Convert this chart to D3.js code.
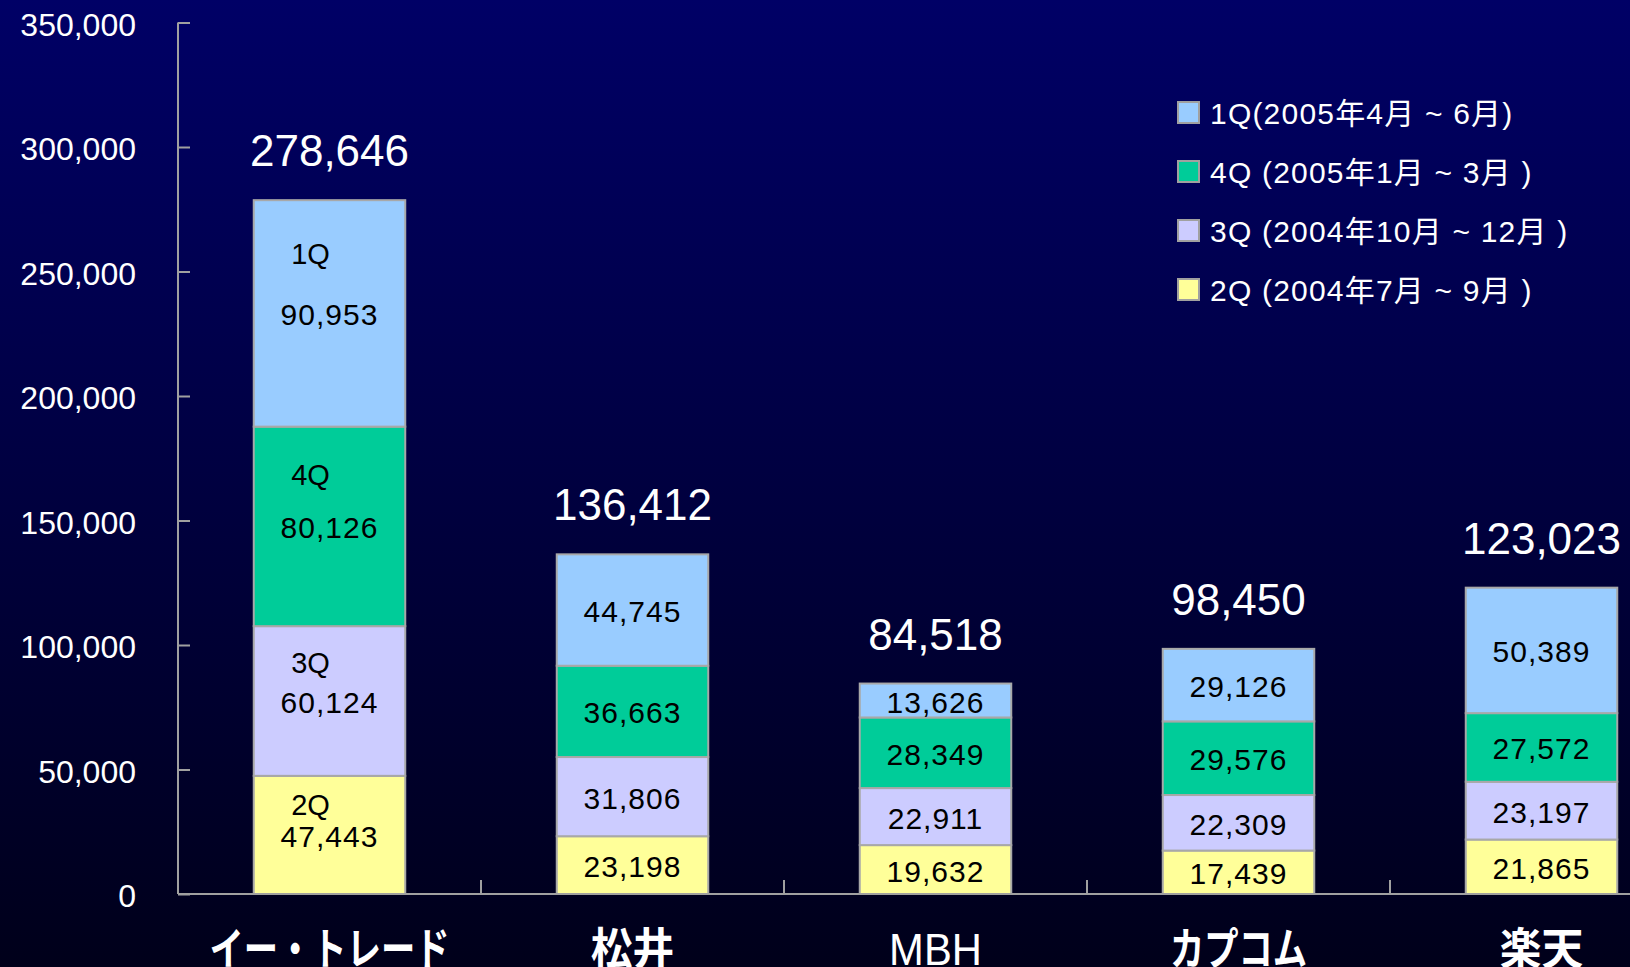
<!DOCTYPE html>
<html>
<head>
<meta charset="utf-8">
<script src="https://cdn.jsdelivr.net/npm/d3@7"></script>
<style>
  html, body { margin: 0; padding: 0; overflow: hidden; background: #000033; }
  text { font-family: "Liberation Sans", Arial, sans-serif; }
</style>
</head>
<body>
<div id="chart"></div>
<script>
// data
var companies = ["イー・トレード", "松井", "MBH", "カプコム", "楽天"];
var quarters = ["2Q", "3Q", "4Q", "1Q"]; // stacked bottom -> top
var q2 = [47443, 23198, 19632, 17439, 21865];
var q3 = [60124, 31806, 22911, 22309, 23197];
var q4 = [80126, 36663, 28349, 29576, 27572];
var q1 = [90953, 44745, 13626, 29126, 50389];
var totals = [278646, 136412, 84518, 98450, 123023];
var yTicks = [0, 50000, 100000, 150000, 200000, 250000, 300000, 350000];
var legendLabels = [
  "1Q(2005年4月 ~ 6月)",
  "4Q (2005年1月 ~ 3月 )",
  "3Q (2004年10月 ~ 12月 )",
  "2Q (2004年7月 ~ 9月 )"
];
var legendKeys = ["1Q", "4Q", "3Q", "2Q"];

var colors = { "1Q": "#99ccff", "4Q": "#00cc99", "3Q": "#ccccff", "2Q": "#ffff99" };

var W = 1630, H = 967;
var x0 = 178, yBase = 894, yTop = 22.5;

var svg = d3.select("#chart").append("svg")
  .attr("width", W)
  .attr("height", H);

// background gradient
var grad = svg.append("defs").append("linearGradient")
  .attr("id", "bg").attr("x1", 0).attr("y1", 0).attr("x2", 0).attr("y2", 1);
grad.append("stop").attr("offset", "0%").attr("stop-color", "#000066");
grad.append("stop").attr("offset", "100%").attr("stop-color", "#00001a");
svg.append("rect").attr("width", W).attr("height", H).attr("fill", "url(#bg)");

var y = d3.scaleLinear().domain([0, 350000]).range([yBase, yTop]);
var x = d3.scaleBand()
  .domain(companies)
  .range([x0, x0 + 303 * 5])
  .paddingInner(0.5)
  .paddingOuter(0.25);

// build stacked table
var rows = companies.map(function (c, i) {
  return { name: c, "2Q": q2[i], "3Q": q3[i], "4Q": q4[i], "1Q": q1[i], total: totals[i] };
});
var series = d3.stack().keys(quarters)(rows);

// y axis
var yAxis = svg.append("g")
  .attr("transform", "translate(" + x0 + ",0)")
  .call(d3.axisRight(y).tickValues(yTicks).tickSize(12).tickFormat(""));
yAxis.select(".domain").remove();
yAxis.selectAll(".tick line").attr("stroke", "#a0a0a0").attr("stroke-width", 2);
svg.append("line")
  .attr("x1", x0).attr("x2", x0).attr("y1", y(350000)).attr("y2", yBase)
  .attr("stroke", "#a0a0a0").attr("stroke-width", 2);

svg.selectAll("text.ytick")
  .data(yTicks)
  .enter().append("text")
  .attr("class", "ytick")
  .attr("x", 136)
  .attr("y", function (d) { return y(d) + 13; })
  .attr("text-anchor", "end")
  .attr("fill", "#ffffff")
  .style("font-size", "32px")
  .text(function (d) { return d3.format(",")(d); });

// bars
var layer = svg.selectAll("g.layer")
  .data(series)
  .enter().append("g")
  .attr("class", "layer");

layer.selectAll("rect")
  .data(function (s) { return s.map(function (d) { return { key: s.key, d: d }; }); })
  .enter().append("rect")
  .attr("x", function (o) { return x(o.d.data.name); })
  .attr("y", function (o) { return y(o.d[1]); })
  .attr("width", x.bandwidth())
  .attr("height", function (o) { return y(o.d[0]) - y(o.d[1]); })
  .attr("fill", function (o) { return colors[o.key]; })
  .attr("stroke", "#a8a8a8")
  .attr("stroke-width", 2);

// segment values
layer.selectAll("text.val")
  .data(function (s) { return s.map(function (d) { return { key: s.key, d: d }; }); })
  .enter().append("text")
  .attr("class", "val")
  .attr("x", function (o) { return x(o.d.data.name) + x.bandwidth() / 2; })
  .attr("y", function (o) { return (y(o.d[0]) + y(o.d[1])) / 2 + 12; })
  .attr("text-anchor", "middle")
  .attr("fill", "#000000")
  .style("font-size", "30px")
  .style("letter-spacing", "1px")
  .text(function (o) { return d3.format(",")(o.d[1] - o.d[0]); });

// quarter names inside the first bar
layer.append("text")
  .attr("x", function (s) { return x(companies[0]) + x.bandwidth() / 2 - 19; })
  .attr("y", function (s) {
    var d = s[0];
    var h = y(d[0]) - y(d[1]);
    return (y(d[0]) + y(d[1])) / 2 - 0.27 * h + 12;
  })
  .attr("text-anchor", "middle")
  .attr("fill", "#000000")
  .style("font-size", "29px")
  .text(function (s) { return s.key; });

// totals
svg.selectAll("text.total")
  .data(rows)
  .enter().append("text")
  .attr("class", "total")
  .attr("x", function (d) { return x(d.name) + x.bandwidth() / 2; })
  .attr("y", function (d) { return y(d.total) - 34; })
  .attr("text-anchor", "middle")
  .attr("fill", "#ffffff")
  .style("font-size", "44px")
  .text(function (d) { return d3.format(",")(d.total); });

// x axis
svg.append("line")
  .attr("x1", x0).attr("x2", W).attr("y1", yBase).attr("y2", yBase)
  .attr("stroke", "#a0a0a0").attr("stroke-width", 2);
svg.selectAll("line.xtick")
  .data(companies.slice(1))
  .enter().append("line")
  .attr("class", "xtick")
  .attr("x1", function (d) { return x(d) - x.step() * 0.25; })
  .attr("x2", function (d) { return x(d) - x.step() * 0.25; })
  .attr("y1", yBase).attr("y2", yBase - 14)
  .attr("stroke", "#a0a0a0").attr("stroke-width", 2);

// category labels
svg.selectAll("text.cat")
  .data(companies)
  .enter().append("text")
  .attr("class", "cat")
  .attr("fill", "#ffffff")
  .attr("text-anchor", "middle")
  .style("font-size", "44px")
  .style("font-family", function (d) {
    return /^[A-Za-z]+$/.test(d) ? "'Liberation Sans', Arial, sans-serif" : "'Noto Sans CJK JP', sans-serif";
  })
  .style("font-weight", function (d) { return /^[A-Za-z]+$/.test(d) ? "normal" : "bold"; })
  .attr("transform", function (d) {
    var cx = x(d) + x.bandwidth() / 2;
    var sx = /[\u30A0-\u30FF]/.test(d) ? 0.78 : 0.95;
    return "translate(" + cx + "," + 965 + ") scale(" + sx + ",1)";
  })
  .text(function (d) { return d; });

// legend
var legend = svg.append("g").attr("transform", "translate(1178,102)");
var item = legend.selectAll("g")
  .data(legendKeys)
  .enter().append("g")
  .attr("transform", function (d, i) { return "translate(0," + (i * 59) + ")"; });
item.append("rect")
  .attr("width", 21).attr("height", 21)
  .attr("fill", function (d) { return colors[d]; })
  .attr("stroke", "#a0a0a0").attr("stroke-width", 2);
item.append("text")
  .attr("x", 32).attr("y", 22)
  .attr("fill", "#ffffff")
  .style("font-size", "30px")
  .style("letter-spacing", "1.2px")
  .style("font-family", "'Liberation Sans', 'Noto Sans CJK JP', sans-serif")
  .text(function (d, i) { return legendLabels[i]; });
</script>
</body>
</html>
